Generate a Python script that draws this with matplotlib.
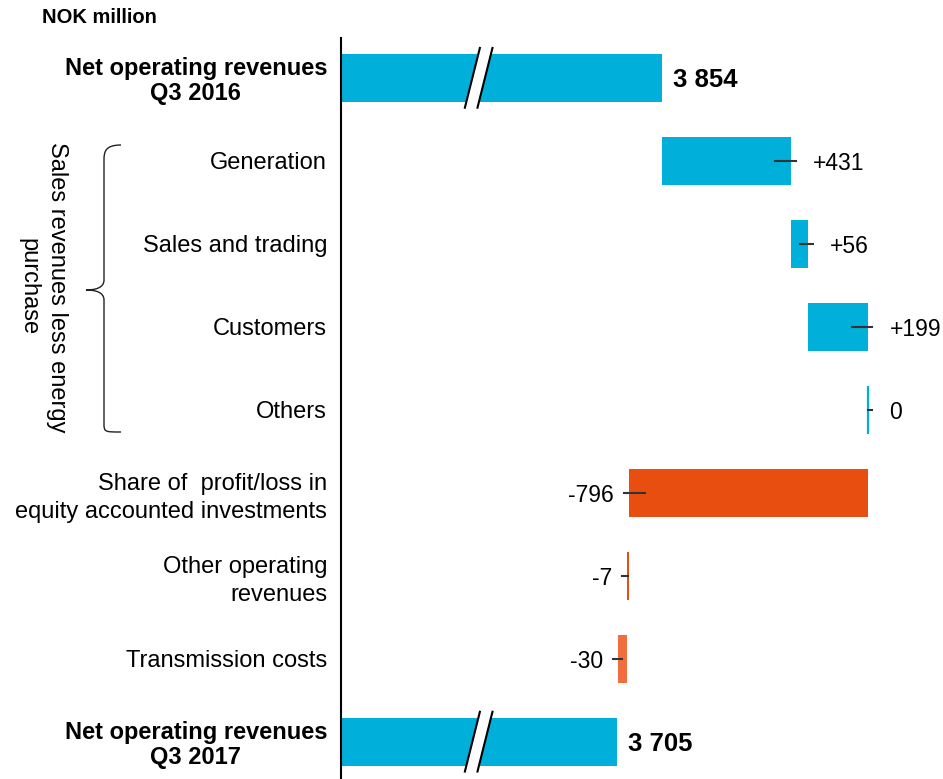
import matplotlib
matplotlib.use("Agg")
import matplotlib.pyplot as plt
from matplotlib.path import Path
from matplotlib.patches import PathPatch, Polygon

plt.rcParams['font.family'] = ['Liberation Sans', 'DejaVu Sans']

categories = ["Net operating revenues\nQ3 2016", "Generation", "Sales and trading", "Customers",
              "Others", "Share of  profit/loss in\nequity accounted investments",
              "Other operating\nrevenues", "Transmission costs", "Net operating revenues\nQ3 2017"]
start_total = 3854
end_total = 3705
changes = [431, 56, 199, 0, -796, -7, -30]
change_labels = ["+431", "+56", "+199", "0", "-796", "-7", "-30"]
total_labels = ["3 854", "3 705"]
group_label = "Sales revenues less energy\npurchase"
unit_label = "NOK million"

BLUE = "#00B0DA"
ORANGE = "#E84E10"
LORANGE = "#F26D3D"
change_colors = [BLUE, BLUE, BLUE, BLUE, ORANGE, ORANGE, LORANGE]

X0, X1 = 2784, 4791
W, H = 943, 779
fig = plt.figure(figsize=(W / 100, H / 100), dpi=100)
ax = fig.add_axes([341 / W, 0, (W - 341) / W, (H - 38) / H])
ax.set_xlim(X0, X1)
ax.set_ylim(8.45, -0.48)
for s in ["top", "right", "bottom"]:
    ax.spines[s].set_visible(False)
ax.spines["left"].set_linewidth(1.5)
ax.set_xticks([])
h = 0.58

# totals
ax.barh(0, start_total - X0, left=X0, height=h, color=BLUE)
ax.barh(8, end_total - X0, left=X0, height=h, color=BLUE)
ax.text(start_total + 37, 0, total_labels[0], va="center_baseline", ha="left", fontsize=18.5, fontweight="bold")
ax.text(end_total + 37, 8, total_labels[1], va="center_baseline", ha="left", fontsize=18.5, fontweight="bold")

# changes
cum = start_total
for i, (v, lab, col) in enumerate(zip(changes, change_labels, change_colors)):
    y = i + 1
    new = cum + v
    lo, hi = min(cum, new), max(cum, new)
    if v == 0:
        ax.vlines(cum, y - h / 2, y + h / 2, color=col, lw=1.6)
    else:
        ax.barh(y, hi - lo, left=lo, height=h, color=col)
    inner = min(0.5 * abs(v), 53)
    if v >= 0:
        ax.plot([new - inner, new + 15], [y, y], color="#333333", lw=1.5)
        ax.text(new + 73, y, lab, va="center_baseline", ha="left", fontsize=16.5)
    else:
        ax.plot([new - 15, new + inner], [y, y], color="#333333", lw=1.5)
        ax.text(new - 50, y, lab, va="center_baseline", ha="right", fontsize=16.5)
    cum = new

ax.set_yticks(range(len(categories)))
ax.set_yticklabels(categories, fontsize=17)
ax.tick_params(axis="y", length=0, pad=10)
for i, t in enumerate(ax.get_yticklabels()):
    if i in (0, 8):
        t.set_fontweight("bold")
        t.set_multialignment("center")
        t.set_linespacing(1.12)
    else:
        t.set_multialignment("right")
        t.set_linespacing(1.33)

# break marks on total bars
for y in (0, 8):
    xb = 3222
    dx = 25
    gap = 42
    top, bot = y - 0.36, y + 0.36
    poly = Polygon([(xb - dx, bot), (xb + dx, top), (xb + dx + gap, top), (xb - dx + gap, bot)],
                   closed=True, facecolor="white", edgecolor="none", zorder=3)
    ax.add_patch(poly)
    ax.plot([xb - dx, xb + dx], [bot, top], color="black", lw=1.5, zorder=4)
    ax.plot([xb - dx + gap, xb + dx + gap], [bot, top], color="black", lw=1.5, zorder=4)

# overlay for annotations (pixel coordinates)
ov = fig.add_axes([0, 0, 1, 1], facecolor="none")
ov.set_xlim(0, W)
ov.set_ylim(H, 0)
ov.axis("off")
ov.text(42, 17, unit_label, fontsize=14.5, fontweight="bold", va="center", ha="left")
ov.text(43, 287, group_label, rotation=-90, fontsize=17, va="center", ha="center",
        multialignment="center", linespacing=1.4)
verts = [(121, 145), (105, 145), (104, 152), (104, 160),
         (104, 280),
         (104, 288), (95, 290), (86, 290),
         (95, 290), (104, 292), (104, 300),
         (104, 424),
         (104, 432), (105, 432), (121, 432)]
codes = [Path.MOVETO, Path.CURVE4, Path.CURVE4, Path.CURVE4,
         Path.LINETO,
         Path.CURVE4, Path.CURVE4, Path.CURVE4,
         Path.CURVE4, Path.CURVE4, Path.CURVE4,
         Path.LINETO,
         Path.CURVE4, Path.CURVE4, Path.CURVE4]
ov.add_patch(PathPatch(Path(verts, codes), facecolor="none", edgecolor="#222222", lw=1.0))

fig.savefig("out.png", dpi=100)
